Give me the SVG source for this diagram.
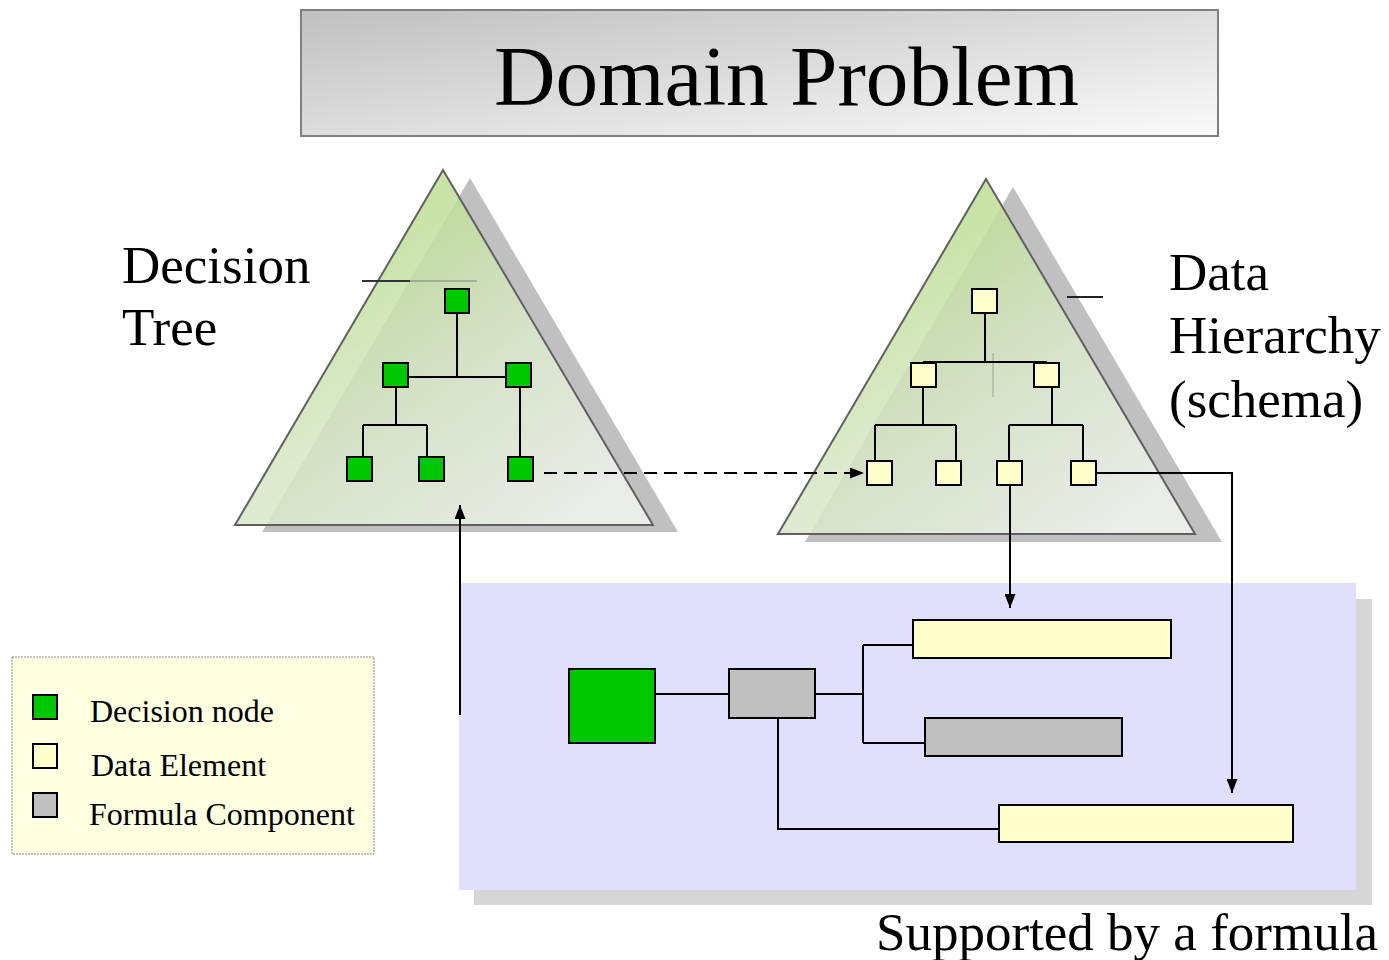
<svg xmlns="http://www.w3.org/2000/svg" width="1389" height="960" viewBox="0 0 1389 960">
  <defs>
    <linearGradient id="titleFill" x1="0" y1="0" x2="1" y2="1">
      <stop offset="0" stop-color="#c0c0c0"/>
      <stop offset="1" stop-color="#fafafa"/>
    </linearGradient>
    <linearGradient id="triFill" x1="0.15" y1="0.1" x2="0.85" y2="0.95">
      <stop offset="0.05" stop-color="#b6da84"/>
      <stop offset="0.5" stop-color="#d6e6c4"/>
      <stop offset="1" stop-color="#f2f4f0"/>
    </linearGradient>
    <marker id="arrow" viewBox="0 0 14 11" refX="14" refY="5.5" markerWidth="14" markerHeight="11" markerUnits="userSpaceOnUse" orient="auto">
      <path d="M0,0 L14,5.5 L0,11 Z" fill="#000"/>
    </marker>
    <style>
      .serif { font-family: "Liberation Serif", "Times New Roman", serif; fill: #000; }
      .shadow { fill: #c0c0c0; }
      .tri { fill: url(#triFill); fill-opacity: 0.85; stroke: #606060; stroke-width: 2; }
      .dnode { fill: #00c800; stroke: #000; stroke-width: 2; }
      .elem { fill: #ffffcc; stroke: #000; stroke-width: 2; }
      .comp { fill: #c0c0c0; stroke: #000; stroke-width: 2; }
      .link { fill: none; stroke: #000; stroke-width: 2; }
      .flow { fill: none; stroke: #000; stroke-width: 2; marker-end: url(#arrow); }
    </style>
  </defs>

  <rect width="1389" height="960" fill="#ffffff"/>

  <!-- Title banner -->
  <g id="title">
    <rect x="301" y="10" width="917" height="126" fill="url(#titleFill)" stroke="#808080" stroke-width="2"/>
    <text class="serif" x="494" y="105" font-size="84" textLength="585" lengthAdjust="spacingAndGlyphs">Domain Problem</text>
  </g>

  <!-- Formula panel -->
  <g id="formula-panel">
    <rect x="474" y="599" width="898" height="306" fill="#d6d6d6"/>
    <rect x="459" y="583" width="897" height="307" fill="#e0e0fc"/>
  </g>

  <!-- Decision tree triangle -->
  <g id="decision-tree">
    <polygon class="shadow" points="470,178 678,532 262,532"/>
    <polygon class="tri" points="443,170 653,525 235,525"/>
    <line x1="362" y1="281" x2="410" y2="281" stroke="#333" stroke-width="2"/>
    <line x1="410" y1="281" x2="477" y2="281" stroke="#555" stroke-opacity="0.35" stroke-width="2"/>
    <path class="link" d="M457,313 V377 M408,377 H506 M396,387 V425 M363,425 H427 M363,425 V457 M427,425 V457 M520,387 V457"/>
    <rect id="dt-root" class="dnode" x="445" y="289" width="24" height="24"/>
    <rect id="dt-left" class="dnode" x="383" y="363" width="25" height="24"/>
    <rect id="dt-right" class="dnode" x="506" y="363" width="25" height="24"/>
    <rect id="dt-ll" class="dnode" x="347" y="457" width="25" height="24"/>
    <rect id="dt-lr" class="dnode" x="419" y="457" width="25" height="24"/>
    <rect id="dt-rr" class="dnode" x="508" y="457" width="25" height="24"/>
  </g>
  <g id="decision-tree-label">
    <text class="serif" x="122" y="283" font-size="53">Decision</text>
    <text class="serif" x="122" y="345" font-size="53">Tree</text>
  </g>

  <!-- Data hierarchy triangle -->
  <g id="data-hierarchy">
    <polygon class="shadow" points="1013,187 1222,542 805,542"/>
    <polygon class="tri" points="986,179 1195,534 778,534"/>
    <line x1="1067" y1="297" x2="1103" y2="297" stroke="#222" stroke-width="2"/>
    <line x1="993" y1="353" x2="993" y2="397" stroke="#999" stroke-opacity="0.6" stroke-width="1.5"/>
    <path class="link" d="M985,313 V362 M923,362 H1047 M923,387 V425 M875,425 H956 M875,425 V461 M956,425 V461 M1052,387 V425 M1009,425 H1083 M1009,425 V461 M1083,425 V461"/>
    <rect id="dh-root" class="elem" x="972" y="289" width="25" height="24"/>
    <rect id="dh-left" class="elem" x="911" y="363" width="25" height="24"/>
    <rect id="dh-right" class="elem" x="1034" y="363" width="25" height="24"/>
    <rect id="dh-ll" class="elem" x="867" y="461" width="25" height="24"/>
    <rect id="dh-lr" class="elem" x="936" y="461" width="25" height="24"/>
    <rect id="dh-rl" class="elem" x="997" y="461" width="25" height="24"/>
    <rect id="dh-rr" class="elem" x="1071" y="461" width="25" height="24"/>
  </g>
  <g id="data-hierarchy-label">
    <text class="serif" x="1169" y="290" font-size="53">Data</text>
    <text class="serif" x="1169" y="353" font-size="53">Hierarchy</text>
    <text class="serif" x="1169" y="417" font-size="53">(schema)</text>
  </g>

  <!-- Formula structure -->
  <g id="formula">
    <path class="link" d="M655,694 H729 M815,694 H863 M863,645 V743 M863,645 H913 M863,743 H925 M778,718 V829 H999"/>
    <rect id="f-decision" class="dnode" x="569" y="669" width="86" height="74"/>
    <rect id="f-operator" class="comp" x="729" y="669" width="86" height="49"/>
    <rect id="f-elem-a" class="elem" x="913" y="620" width="258" height="38"/>
    <rect id="f-comp" class="comp" x="925" y="718" width="197" height="38"/>
    <rect id="f-elem-b" class="elem" x="999" y="805" width="294" height="37"/>
  </g>

  <!-- Connectors -->
  <g id="connectors">
    <line class="flow" x1="544" y1="473" x2="864" y2="473" stroke-dasharray="13,7"/>
    <path class="flow" d="M1010,485 V608"/>
    <path class="flow" d="M1096,473 H1232 V793"/>
    <path class="flow" d="M460,715 V505"/>
  </g>

  <!-- Legend -->
  <g id="legend">
    <rect x="12" y="657" width="362" height="197" fill="#ffffe2" stroke="#8a8a8a" stroke-width="1" stroke-dasharray="2,1"/>
    <rect class="dnode" x="33" y="695" width="24" height="24"/>
    <rect class="elem" x="33" y="744" width="24" height="24"/>
    <rect class="comp" x="33" y="793" width="24" height="24"/>
    <text class="serif" x="90" y="722" font-size="32">Decision node</text>
    <text class="serif" x="91" y="776" font-size="32">Data Element</text>
    <text class="serif" x="89" y="825" font-size="32">Formula Component</text>
  </g>

  <g id="caption">
    <text class="serif" x="876" y="950" font-size="53">Supported by a formula</text>
  </g>
</svg>
